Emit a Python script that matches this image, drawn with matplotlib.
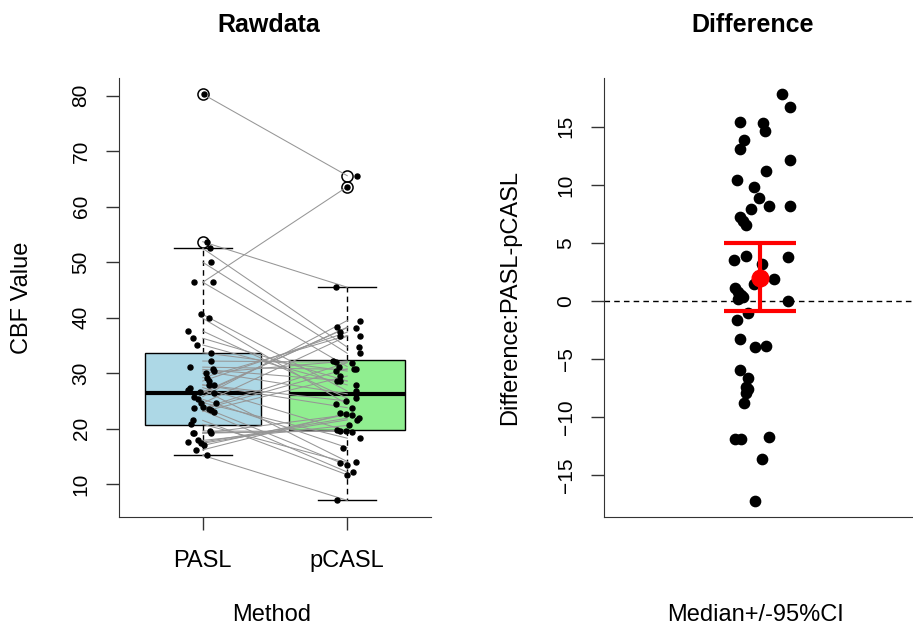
import matplotlib
matplotlib.use("Agg")
import matplotlib.pyplot as plt

plt.rcParams['font.family'] = ['Liberation Sans', 'DejaVu Sans']

# ---- data ----
methods = ['PASL', 'pCASL']
box_colors = ['#ADD8E6', '#90EE90']

# paired CBF values (same subject on each row)
pasl = [80.3, 46.4, 53.7, 15.2, 21.5, 23.3, 23.9, 20.8, 27.0, 25.3,
        24.7, 52.5, 50.0, 46.4, 39.9, 40.6, 37.6, 36.3, 35.1, 33.7,
        25.8, 26.4, 26.6, 24.6, 28.6, 29.2, 23.7, 23.5, 23.1, 16.2,
        17.0, 17.4, 17.6, 17.9, 19.2, 19.2, 19.3, 19.6, 32.2, 31.1,
        30.7, 30.4, 30.0, 27.9, 27.9, 27.4]
pcasl = [65.6, 63.6, 45.5, 7.1, 11.7, 12.2, 13.4, 13.9, 14.1, 16.6,
         18.3, 34.7, 33.6, 31.2, 24.4, 26.8, 25.5, 28.6, 27.9, 30.4,
         39.5, 38.3, 38.2, 36.7, 37.4, 36.8, 31.9, 30.8, 29.5, 22.8,
         22.6, 21.6, 21.9, 20.6, 22.5, 19.7, 19.6, 19.5, 32.0, 30.7,
         28.6, 26.3, 32.2, 25.0, 23.8, 19.6]
# horizontal jitter of the dots
pasl_jit = [0.01, -0.06, 0.03, 0.03, -0.07, 0.06, 0.00, -0.08, -0.10, -0.03,
            -0.01, 0.05, 0.06, 0.07, 0.04, -0.01, -0.10, -0.07, -0.04, 0.06,
            -0.06, 0.08, -0.02, 0.09, 0.04, 0.03, -0.06, 0.04, 0.08, -0.05,
            0.01, -0.01, -0.10, -0.03, -0.07, 0.06, -0.06, 0.05, 0.06, -0.09,
            0.07, 0.08, 0.02, 0.04, 0.08, -0.09]
pcasl_jit = [0.07, 0.00, -0.08, -0.07, 0.00, 0.04, 0.00, -0.05, 0.06, -0.03,
             0.09, 0.08, 0.09, -0.06, -0.08, 0.06, 0.06, -0.07, 0.06, -0.08,
             0.09, -0.07, 0.06, 0.09, -0.05, -0.05, 0.03, 0.05, -0.05, -0.05,
             -0.01, 0.07, 0.08, 0.01, 0.03, -0.07, -0.05, 0.03, -0.08, 0.06,
             -0.05, 0.06, -0.10, -0.01, 0.03, -0.01]

# boxplot statistics
box_med = [26.5, 26.2]
box_q1 = [20.7, 19.7]
box_q3 = [33.7, 32.4]
box_lo = [15.2, 7.1]
box_hi = [52.5, 45.5]
box_out = [[80.3, 53.7], [65.6, 63.6]]

# differences PASL - pCASL
diff_vals = [17.8, 16.7, 15.4, 15.3, 14.6, 13.9, 13.1, 12.1, 11.2, 10.4,
             9.8, 8.9, 8.2, 8.2, 7.9, 7.2, 6.9, 6.5, 3.9, 3.8,
             3.5, 3.2, 1.9, 1.5, 1.1, 0.8, 0.5, 0.3, 0.15, 0.0,
             -1.0, -1.6, -3.3, -3.9, -4.0, -5.9, -6.6, -7.4, -7.6, -7.9,
             -8.8, -11.7, -11.9, -11.9, -13.6, -17.2]
diff_jit = [0.14, 0.19, -0.13, 0.02, 0.03, -0.10, -0.13, 0.19, 0.04, -0.15,
            -0.04, -0.01, 0.06, 0.19, -0.06, -0.13, -0.11, -0.09, -0.09, 0.18,
            -0.17, 0.01, 0.09, -0.04, -0.16, -0.14, -0.12, -0.11, -0.14, 0.18,
            -0.08, -0.15, -0.13, 0.04, -0.03, -0.13, -0.08, -0.09, -0.08, -0.09,
            -0.10, 0.06, -0.16, -0.12, 0.01, -0.03]
diff_median = 2.0
diff_ci = [-0.86, 4.95]

# ---- figure ----
fig = plt.figure(figsize=(9.13, 6.28), dpi=100)
ax1 = fig.add_axes([119 / 913, 1 - 517 / 628, 312 / 913, 439 / 628])
ax2 = fig.add_axes([604 / 913, 1 - 517 / 628, 309 / 913, 439 / 628])

# left: boxplot + paired lines + jittered points
stats = []
for i in range(2):
    stats.append(dict(med=box_med[i], q1=box_q1[i], q3=box_q3[i],
                      whislo=box_lo[i], whishi=box_hi[i], fliers=box_out[i]))
bp = ax1.bxp(stats, positions=[1, 2], widths=0.8, patch_artist=True,
             boxprops=dict(edgecolor='black', linewidth=1),
             whiskerprops=dict(linestyle=(0, (4, 3)), linewidth=1),
             capprops=dict(linewidth=1),
             medianprops=dict(color='black', linewidth=3),
             flierprops=dict(marker='o', markerfacecolor='none',
                             markeredgecolor='black', markersize=8,
                             markeredgewidth=1.1))
for patch, c in zip(bp['boxes'], box_colors):
    patch.set_facecolor(c)
for cap in bp['caps']:
    x0, x1 = cap.get_xdata()
    mid = (x0 + x1) / 2
    cap.set_xdata([mid - 0.2, mid + 0.2])

for a, b in zip(pasl, pcasl):
    ax1.plot([1, 2], [a, b], color='#969696', linewidth=0.75, zorder=3)
ax1.scatter([1 + j for j in pasl_jit], pasl, s=13, color='black', zorder=4)
ax1.scatter([2 + j for j in pcasl_jit], pcasl, s=13, color='black', zorder=4)

ax1.set_xlim(0.42, 2.58)
ax1.set_ylim(4.1, 83.2)
ax1.set_xticks([1, 2])
ax1.set_xticklabels(methods)
ax1.set_yticks(range(10, 81, 10))
ax1.set_title('Rawdata', fontsize=18, fontweight='bold', x=0.48, y=1.085)
ax1.set_xlabel('Method', fontsize=17, va='center')
ax1.set_ylabel('CBF Value', fontsize=17, va='center')
ax1.xaxis.set_label_coords(0.49, -0.223)
ax1.yaxis.set_label_coords(-0.311, 0.5)

# right: differences with median and 95% CI
ax2.axhline(0, color='black', linestyle=(0, (4, 3)), linewidth=1)
ax2.scatter([1 + j for j in diff_jit], diff_vals, s=55, color='black', zorder=3)
ax2.errorbar([1], [diff_median],
             yerr=[[diff_median - diff_ci[0]], [diff_ci[1] - diff_median]],
             fmt='o', color='red', markersize=12, elinewidth=3,
             capsize=26, capthick=3, zorder=4)
ax2.set_xlim(0, 1.98)
ax2.set_ylim(-18.6, 19.2)
ax2.set_xticks([])
ax2.set_yticks(range(-15, 16, 5))
ax2.set_title('Difference', fontsize=18, fontweight='bold', x=0.48, y=1.085)
ax2.set_xlabel('Median+/-95%CI', fontsize=17, va='center')
ax2.set_ylabel('Difference:PASL-pCASL', fontsize=17, va='center')
ax2.xaxis.set_label_coords(0.49, -0.223)
ax2.yaxis.set_label_coords(-0.304, 0.5)

for ax in (ax1, ax2):
    ax.spines['top'].set_visible(False)
    ax.spines['right'].set_visible(False)
    for s in ('left', 'bottom'):
        ax.spines[s].set_color('#333333')
    ax.tick_params(axis='both', length=9.5, width=1, color='#333333')
    ax.tick_params(axis='y', labelsize=15, pad=11)
    ax.tick_params(axis='x', labelsize=17, pad=14)
    for lab in ax.get_yticklabels():
        lab.set_rotation(90)
        lab.set_va('center')

fig.savefig('out.png', dpi=100)
